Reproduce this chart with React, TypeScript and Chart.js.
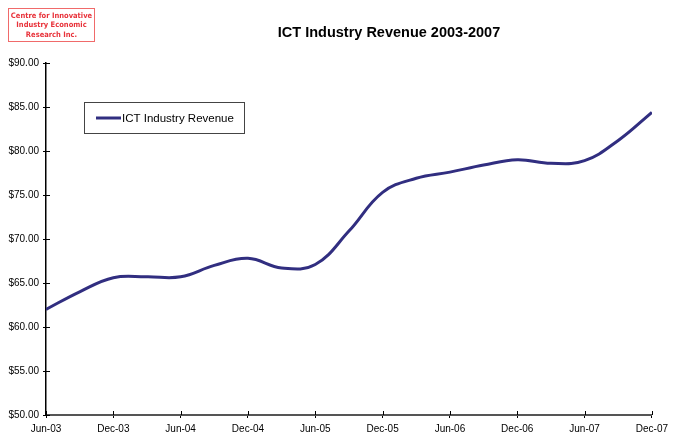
import React, { useEffect, useRef } from "react";
import { Chart, registerables } from "chart.js";

Chart.register(...registerables);

const quarters = [
  "Jun-03", "Sep-03", "Dec-03", "Mar-04", "Jun-04", "Sep-04", "Dec-04", "Mar-05", "Jun-05", "Sep-05",
  "Dec-05", "Mar-06", "Jun-06", "Sep-06", "Dec-06", "Mar-07", "Jun-07", "Sep-07", "Dec-07",
];
const revenue = [
  62.0, 64.0, 65.6, 65.7, 65.7, 67.0, 67.8, 66.7, 67.1, 70.9,
  75.3, 76.9, 77.6, 78.4, 79.0, 78.6, 78.9, 81.2, 84.4,
];
const tickLabels = [
  "Jun-03", "Dec-03", "Jun-04", "Dec-04", "Jun-05", "Dec-05", "Jun-06", "Dec-06", "Jun-07", "Dec-07",
];
const seriesName = "ICT Industry Revenue";
const titleText = "ICT Industry Revenue 2003-2007";
const logoLines = ["Centre for Innovative", "Industry Economic", "Research Inc."];

const FONT = '"Liberation Sans", Arial, sans-serif';
const LINE_COLOR = "#312e80";

const decorPlugin = {
  id: "decor",
  afterDraw(chart: any) {
    const ctx = chart.ctx;
    const { left, bottom } = chart.chartArea;
    const xs = chart.scales.x;
    const ys = chart.scales.y;
    ctx.save();
    // inner halves of tick marks
    ctx.strokeStyle = "#000";
    ctx.lineWidth = 1;
    ys.ticks.forEach((t: any) => {
      const y = Math.round(ys.getPixelForValue(t.value)) + 0.5;
      ctx.beginPath();
      ctx.moveTo(left, y);
      ctx.lineTo(left + 4, y);
      ctx.stroke();
    });
    xs.ticks.forEach((t: any) => {
      const x = Math.round(xs.getPixelForValue(t.value)) + 0.5;
      ctx.beginPath();
      ctx.moveTo(x, bottom);
      ctx.lineTo(x, bottom - 4);
      ctx.stroke();
    });
    // title
    ctx.fillStyle = "#000";
    ctx.font = `bold 14.5px ${FONT}`;
    ctx.textAlign = "center";
    ctx.textBaseline = "middle";
    ctx.fillText(titleText, 389, 33);
    // legend
    const lx = 84.5, ly = 102.5, lw = 160, lh = 31;
    ctx.strokeStyle = "#444";
    ctx.lineWidth = 1;
    ctx.strokeRect(lx, ly, lw, lh);
    ctx.strokeStyle = LINE_COLOR;
    ctx.lineWidth = 3;
    ctx.beginPath();
    ctx.moveTo(96, 118);
    ctx.lineTo(121, 118);
    ctx.stroke();
    ctx.fillStyle = "#000";
    ctx.font = `11.5px ${FONT}`;
    ctx.textAlign = "left";
    ctx.fillText(chart.data.datasets[0].label, 122, 118.5);
    ctx.restore();
  },
};

export default function App() {
  const ref = useRef<HTMLCanvasElement | null>(null);
  useEffect(() => {
    if (!ref.current) return;
    const chart = new Chart(ref.current, {
      type: "line",
      data: {
        datasets: [
          {
            label: seriesName,
            data: revenue.map((v, i) => ({ x: i, y: v })),
            borderColor: LINE_COLOR,
            borderWidth: 3,
            pointRadius: 0,
            tension: 0.4,
            fill: false,
          },
        ],
      },
      options: {
        animation: false,
        responsive: false,
        maintainAspectRatio: false,
        layout: { padding: { left: 0, right: 20, top: 63, bottom: 0 } },
        plugins: {
          legend: { display: false },
          title: { display: false },
          tooltip: { enabled: false },
        },
        scales: {
          x: {
            type: "linear",
            min: 0,
            max: quarters.length - 1,
            afterBuildTicks: (scale: any) => {
              scale.ticks = tickLabels.map((_, i) => ({ value: i * 2 }));
            },
            afterFit: (scale: any) => {
              scale.height = 24;
            },
            grid: {
              drawOnChartArea: false,
              drawTicks: true,
              tickLength: 3,
              color: "#000",
            },
            border: { display: true, color: "#555", width: 2 },
            ticks: {
              autoSkip: false,
              maxRotation: 0,
              padding: 5,
              color: "#000",
              font: { family: FONT, size: 10 },
              callback: (v: any) => tickLabels[Math.round(Number(v) / 2)] ?? "",
            },
          },
          y: {
            min: 50,
            max: 90,
            afterFit: (scale: any) => {
              scale.width = 46;
            },
            grid: {
              drawOnChartArea: false,
              drawTicks: true,
              tickLength: 3,
              color: "#000",
            },
            border: { display: true, color: "#000", width: 1.5 },
            ticks: {
              stepSize: 5,
              padding: 4,
              color: "#000",
              font: { family: FONT, size: 10 },
              callback: (v: any) => "$" + Number(v).toFixed(2),
            },
          },
        },
      },
      plugins: [decorPlugin],
    });
    return () => chart.destroy();
  }, []);

  return (
    <div style={{ position: "fixed", left: 0, top: 0, width: 673, height: 439, background: "#fff" }}>
      <canvas ref={ref} width={673} height={439} style={{ display: "block" }} />
      <div
        style={{
          position: "absolute",
          left: 8,
          top: 8,
          width: 87,
          height: 34,
          border: "1.5px solid #f06a6a",
          boxSizing: "border-box",
          display: "flex",
          flexDirection: "column",
          alignItems: "center",
          justifyContent: "center",
          color: "#e8323a",
          fontFamily: '"Liberation Sans Narrow", "DejaVu Sans Condensed", Arial, sans-serif',
          fontWeight: 900,
          fontSize: 7.5,
          lineHeight: "9.5px",
        }}
      >
        {logoLines.map((l) => (
          <div key={l} style={{ whiteSpace: "nowrap" }}>{l}</div>
        ))}
      </div>
    </div>
  );
}
